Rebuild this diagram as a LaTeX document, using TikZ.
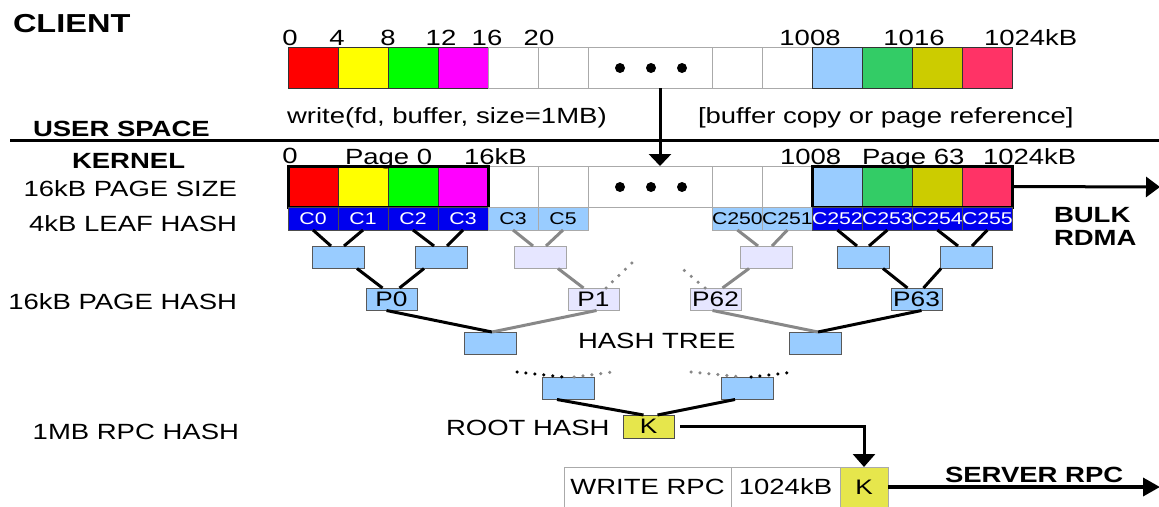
\documentclass[tikz,border=0pt]{standalone}
\usepackage{fontspec}
\setmainfont{Liberation Sans}[FakeStretch=1.25]
\usetikzlibrary{arrows.meta,calc}
\definecolor{cred}{HTML}{FF0000}
\definecolor{cyel}{HTML}{FFFF00}
\definecolor{cgrn}{HTML}{00FF00}
\definecolor{cmag}{HTML}{FF00FF}
\definecolor{clb}{HTML}{99CCFF}
\definecolor{cgrtwo}{HTML}{33CC66}
\definecolor{coli}{HTML}{CCCC00}
\definecolor{cpink}{HTML}{FF3366}
\definecolor{cblue}{HTML}{0000EE}
\definecolor{clav}{HTML}{E6E6FF}
\definecolor{ckey}{HTML}{E6E64C}
\definecolor{cline}{HTML}{888888}
\definecolor{cbord}{HTML}{AAAAAA}
\definecolor{cdk}{HTML}{333333}
\begin{document}
\begin{tikzpicture}[x=1pt,y=-1pt,
  every node/.style={inner sep=0pt, outer sep=0pt},
  lbl/.style={font=\fontsize{22}{26}\selectfont},
  blbl/.style={font=\fontsize{22}{26}\selectfont\bfseries},
  cellbox/.style={anchor=north west, line width=1pt, minimum width=50pt, minimum height=41pt},
  leafbox/.style={anchor=north west, line width=1pt, minimum width=50pt, minimum height=23pt, font=\fontsize{17}{19}\selectfont},
  bleaf/.style={leafbox, fill=cblue, draw=black!70, text=white},
  gleaf/.style={leafbox, fill=clb, draw=cbord},
  hbox/.style={anchor=north west, line width=1pt, minimum width=52pt, minimum height=22.5pt, font=\fontsize{21}{23}\selectfont},
  hblue/.style={hbox, fill=clb, draw=black!65},
  hlav/.style={hbox, fill=clav, draw=black!35},
  conn/.style={line width=3pt},
  gconn/.style={line width=3pt, draw=cline},
  dconn/.style={line width=3.5pt, line cap=round, dash pattern=on 0pt off 9pt},
  arr/.style={line width=3pt, -{Triangle[width=20pt,length=13pt]}},
]
\useasboundingbox (0,0) rectangle (1159,506);

% ---- top labels
\node[font=\fontsize{26}{30}\selectfont\bfseries, anchor=base west] (client) at (13,32) {CLIENT};
\node[blbl, anchor=base west] (user) at (33,136) {USER SPACE};
\node[blbl, anchor=base west] (kern) at (72,168) {KERNEL};
\coordinate (sepL) at (10,140);
\coordinate (sepR) at (1159,140);
\draw[line width=3pt] (sepL) -- (sepR);

% ---- client buffer
\foreach \n/\x/\c/\d in {1/288/cred/cdk, 2/338/cyel/cdk, 3/388/cgrn/cdk, 4/438/cmag/cdk,
  5/488/white/cbord, 6/538/white/cbord, 8/712/white/cbord, 9/762/white/cbord,
  10/812/clb/cdk, 11/862/cgrtwo/cdk, 12/912/coli/cdk, 13/962/cpink/cdk}
  {\node[cellbox, fill=\c, draw=\d] (u\n) at (\x,47) {};}
\node[cellbox, fill=white, draw=cbord, minimum width=124pt] (u7) at (588,47) {};
\foreach \x in {620,651,682} {\fill (\x,68) circle[radius=5pt];}
\foreach \n/\x/\t in {a/290/0, b/337/4, c/388/8, d/441/12, e/487/16, f/539/20, g/810/1008, h/914/1016}
  {\node[lbl, anchor=base] (tl\n) at (\x,45) {\t};}
\node[lbl, anchor=base west] (tli) at (984,45) {1024kB};
\node[lbl, anchor=base west] (wr) at (287,123) {write(fd, buffer, size=1MB)};
\node[lbl, anchor=base west] (bc) at (698,123) {[buffer copy or page reference]};

% ---- kernel buffer
\foreach \n/\x/\c/\d in {1/288/cred/cdk, 2/338/cyel/cdk, 3/388/cgrn/cdk, 4/438/cmag/cdk,
  5/488/white/cbord, 6/538/white/cbord, 8/712/white/cbord, 9/762/white/cbord,
  10/812/clb/cdk, 11/862/cgrtwo/cdk, 12/912/coli/cdk, 13/962/cpink/cdk}
  {\node[cellbox, fill=\c, draw=\d] (k\n) at (\x,166) {};}
\node[cellbox, fill=white, draw=cbord, minimum width=124pt] (k7) at (588,166) {};
\foreach \x in {620,651,682} {\fill (\x,187) circle[radius=5pt];}
\draw[line width=3pt] (k1.north west) rectangle (k4.south east);
\draw[line width=3pt] (k10.north west) rectangle (k13.south east);
\node[lbl, anchor=base] (kl0) at (290,163) {0};
\node[lbl, anchor=base west] (klp0) at (345,164) {Page 0};
\node[lbl, anchor=base west] (kl16) at (464,164) {16kB};
\node[lbl, anchor=base west] (kl1008) at (780,164) {1008};
\node[lbl, anchor=base west] (klp63) at (862,164) {Page 63};
\node[lbl, anchor=base west] (kl1024) at (983,164) {1024kB};

% user -> kernel arrow
\coordinate (ax) at (660,0);
\draw[arr, -{Triangle[width=22pt,length=12pt]}] (u7.south -| ax) -- (k7.north -| ax);

% bulk rdma arrow
\coordinate (bulkend) at (1160,187);
\draw[arr, -{Triangle[width=20pt,length=14pt]}] (k13.east) -- (bulkend);
\node[blbl, anchor=base west] (bulk) at (1054,222) {BULK};
\node[blbl, anchor=base west] (rdma) at (1054,245) {RDMA};

% left labels
\node[lbl, anchor=base east] (ps) at (237,196) {16kB PAGE SIZE};
\node[lbl, anchor=base east] (lh) at (237,231) {4kB LEAF HASH};
\node[lbl, anchor=base east] (ph) at (237,309) {16kB PAGE HASH};
\node[lbl, anchor=base east] (rh) at (239,439) {1MB RPC HASH};

% ---- leaf hashes
\node[bleaf] (l1) at (288,207) {C0};
\node[bleaf] (l2) at (338,207) {C1};
\node[bleaf] (l3) at (388,207) {C2};
\node[bleaf] (l4) at (438,207) {C3};
\node[gleaf] (l5) at (488,207) {C3};
\node[gleaf] (l6) at (538,207) {C5};
\node[gleaf] (l7) at (712,207) {C250};
\node[gleaf] (l8) at (762,207) {C251};
\node[bleaf] (l9) at (812,207) {C252};
\node[bleaf] (l10) at (862,207) {C253};
\node[bleaf] (l11) at (912,207) {C254};
\node[bleaf] (l12) at (962,207) {C255};

% ---- level 2 hashes
\node[hblue] (h1) at (312,246) {};
\node[hblue] (h2) at (415,246) {};
\node[hlav] (h3) at (514,246) {};
\node[hlav] (h4) at (740,246) {};
\node[hblue] (h5) at (837,246) {};
\node[hblue] (h6) at (940,246) {};

\draw[conn] (l1.south) -- ($(h1.north)+(-7,0)$);
\draw[conn] (l2.south) -- ($(h1.north)+(6,0)$);
\draw[conn] (l3.south) -- ($(h2.north)+(-7,0)$);
\draw[conn] (l4.south) -- ($(h2.north)+(6,0)$);
\draw[gconn] (l5.south) -- ($(h3.north)+(-7,0)$);
\draw[gconn] (l6.south) -- ($(h3.north)+(6,0)$);
\draw[gconn] (l7.south) -- ($(h4.north)+(-8,0)$);
\draw[gconn] (l8.south) -- ($(h4.north)+(6,0)$);
\draw[conn] (l9.south) -- ($(h5.north)+(-6,0)$);
\draw[conn] (l10.south) -- ($(h5.north)+(6,0)$);
\draw[conn] (l11.south) -- ($(h6.north)+(-8,0)$);
\draw[conn] (l12.south) -- ($(h6.north)+(6,0)$);

% ---- page hashes
\node[hblue, minimum width=51pt] (p0) at (366,288) {P0};
\node[hlav, minimum width=51pt] (p1) at (568,288) {P1};
\node[hlav, minimum width=51pt] (p62) at (690,288) {P62};
\node[hblue, minimum width=51pt] (p63) at (891,288) {P63};

\draw[conn] ($(h1.south east)+(-7,0)$) -- ($(p0.north)+(-9,0)$);
\draw[conn] ($(h2.south west)+(9,0)$) -- ($(p0.north)+(8,0)$);
\draw[gconn] ($(h3.south east)+(-8,0)$) -- ($(p1.north)+(-10,0)$);
\draw[gconn] ($(h4.south west)+(9,0)$) -- ($(p62.north)+(7,0)$);
\draw[conn] ($(h5.south east)+(-6,0)$) -- ($(p63.north)+(-9,0)$);
\draw[conn] ($(h6.south west)+(1,0)$) -- ($(p63.north)+(7,0)$);

\coordinate (dp1) at (634,261);
\coordinate (dp62) at (678,265);
\draw[dconn, draw=cline] ($(p1.north east)+(-13,0)$) -- (dp1);
\draw[dconn, draw=cline] ($(p62.north west)+(15,0)$) -- (dp62);

% ---- level 3
\node[hblue] (m1) at (464,332) {};
\node[hblue] (m2) at (789,332) {};
\node[lbl, anchor=base west] (ht) at (578,348) {HASH TREE};
\draw[conn] ($(p0.south)+(-5,0)$) -- ($(m1.north)+(2,0)$);
\draw[gconn] ($(p1.south)+(3,0)$) -- ($(m1.north)+(2,0)$);
\draw[gconn] ($(p62.south)+(-3,0)$) -- ($(m2.north)+(3,0)$);
\draw[conn] ($(p63.south)+(5,0)$) -- ($(m2.north)+(3,0)$);

% ---- level 4
\node[hblue] (n1) at (542,377) {};
\node[hblue] (n2) at (721,377) {};
\coordinate (da) at (517,372);
\coordinate (db) at (613,372);
\coordinate (dc) at (691,372);
\coordinate (dd) at (795,372);
\draw[dconn] (da) -- ($(n1.north)+(-4,0)$);
\draw[dconn, draw=cline] ($(n1.north)+(6,0)$) -- (db);
\draw[dconn, draw=cline] (dc) -- ($(n2.north)+(-4,0)$);
\draw[dconn] ($(n2.north)+(4,0)$) -- (dd);

% ---- root
\node[hbox, fill=ckey, draw=black!70, minimum width=51pt, minimum height=23pt] (key) at (623,415) {K};
\node[lbl, anchor=base west] (root) at (446,435) {ROOT HASH};
\draw[conn] ($(n1.south)+(-11,0)$) -- ($(key.north)+(-5,0)$);
\draw[conn] ($(n2.south)+(-12,0)$) -- ($(key.north)+(9,0)$);

% ---- write rpc
\node[anchor=north west, draw=cbord, line width=1pt, minimum width=167pt, minimum height=40pt, lbl] (r1) at (564,467) {WRITE RPC};
\node[anchor=north west, draw=cbord, line width=1pt, minimum width=109pt, minimum height=40pt, lbl] (r2) at (731,467) {1024kB};
\node[anchor=north west, draw=cbord, fill=ckey, line width=1pt, minimum width=48pt, minimum height=40pt, font=\fontsize{21}{23}\selectfont] (r3) at (840,467) {K};
\draw[arr, -{Triangle[width=22pt,length=13pt]}] ($(key.east)+(6,0)$) -| (r3.north);
\coordinate (srvend) at (1160,487);
\draw[line width=3.5pt, -{Triangle[width=18pt,length=17pt]}] (r3.east |- srvend) -- (srvend);
\node[blbl, anchor=base west] (srv) at (945,482) {SERVER RPC};
\end{tikzpicture}
\end{document}
